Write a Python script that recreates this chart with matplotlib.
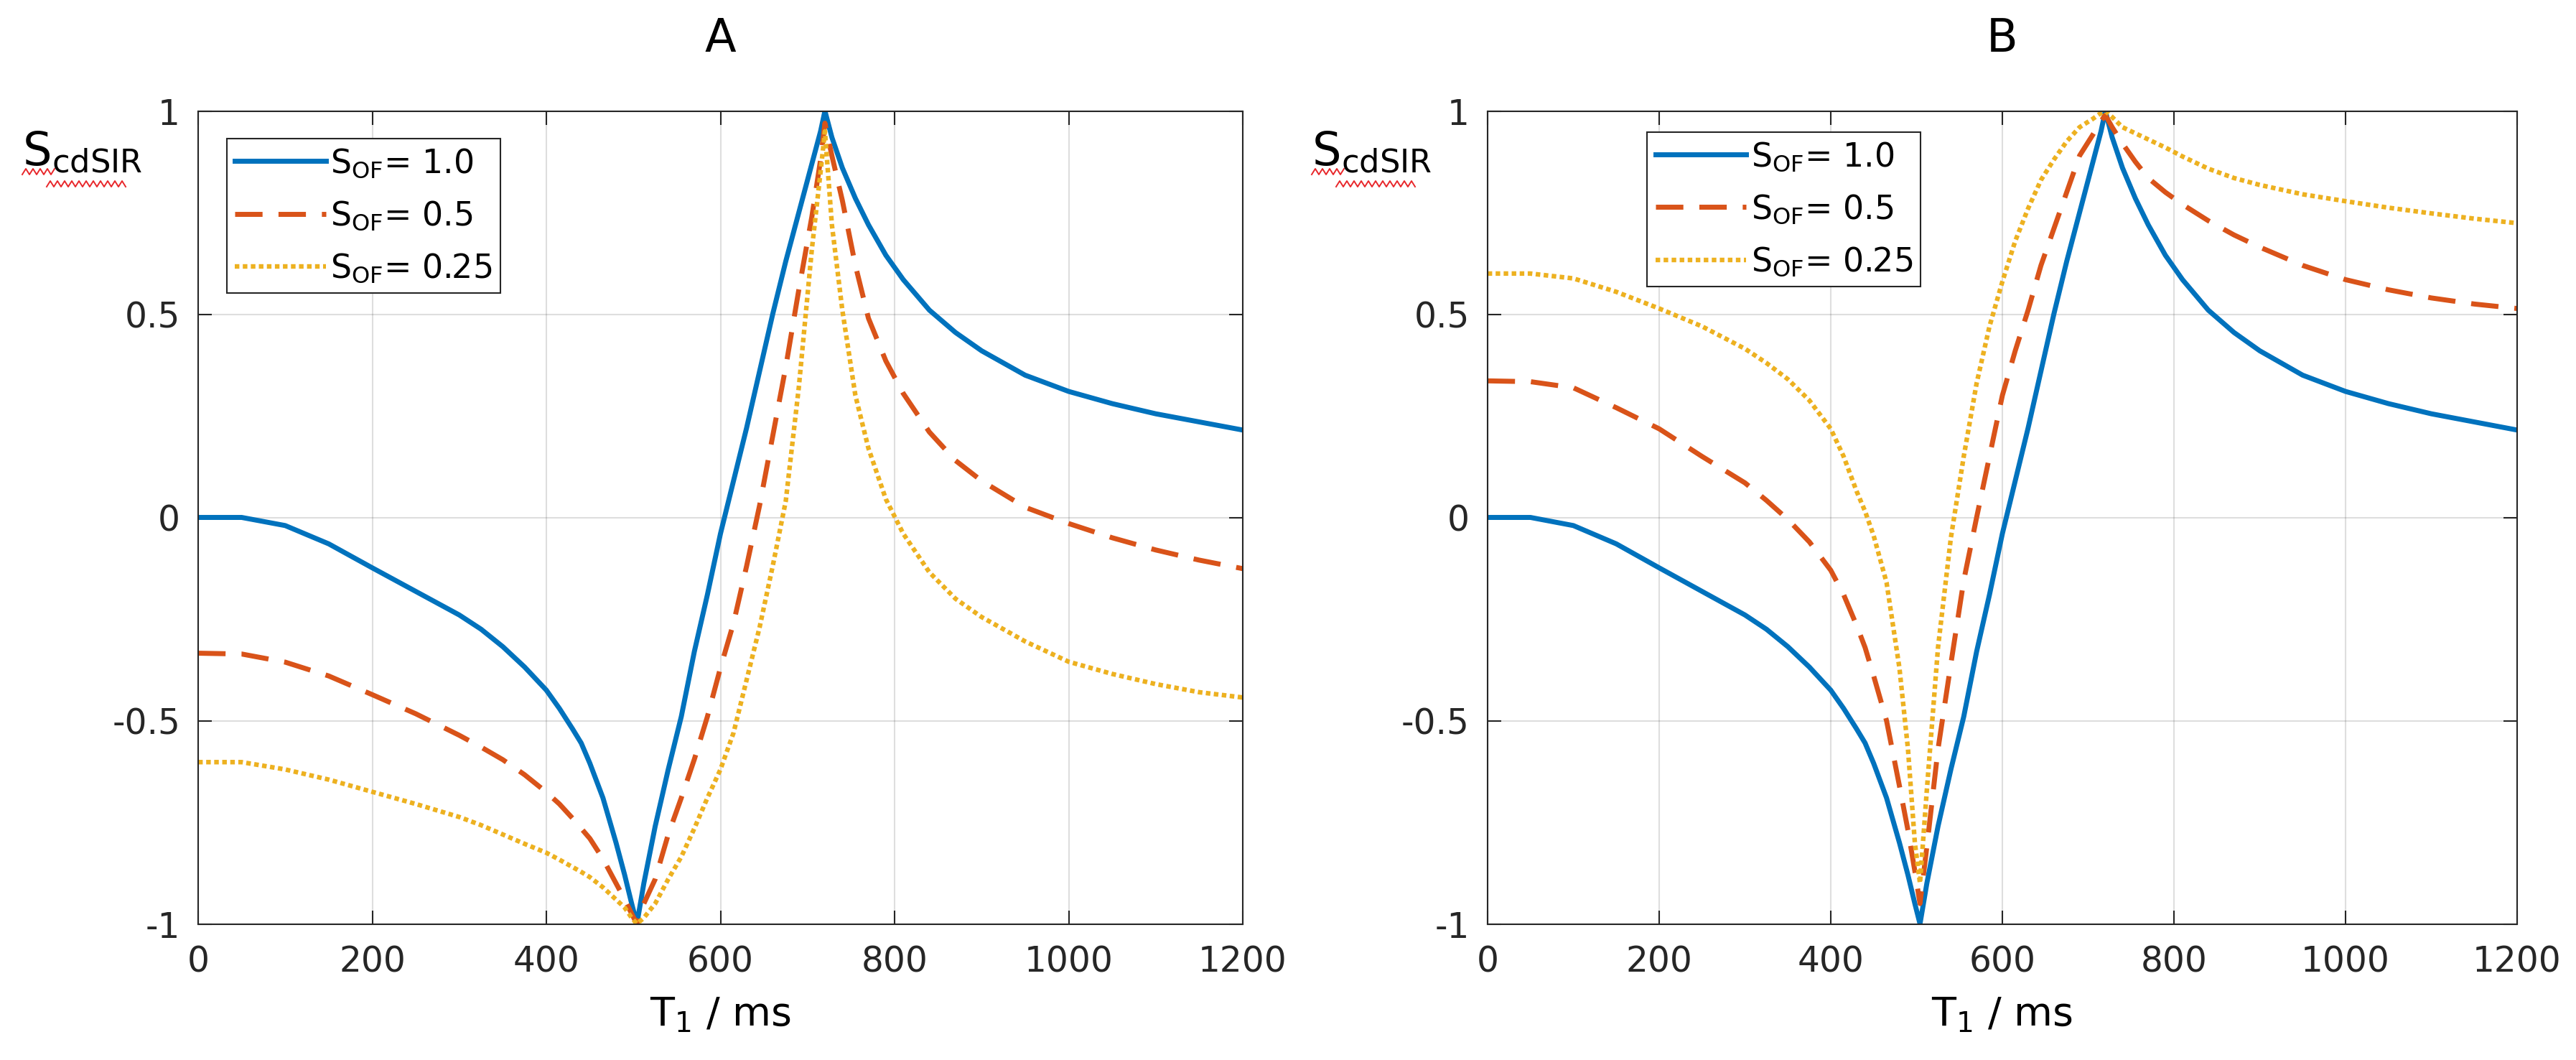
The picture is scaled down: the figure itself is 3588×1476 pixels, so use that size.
import matplotlib
matplotlib.use("Agg")
import matplotlib.pyplot as plt
import numpy as np
from matplotlib.lines import Line2D

# T1 sample points (ms), shared by every curve
T1_MS = [0, 50, 100, 150, 200, 250, 300, 325, 350, 375, 400, 415, 430, 440, 450, 465, 480, 490, 498, 504,
         512, 525, 540, 555, 570, 585, 600, 615, 630, 645, 660, 675, 690, 705, 715, 720,
         728, 740, 755, 770, 790, 810, 840, 870, 900, 950, 1000, 1050, 1100, 1150, 1200]

# S_OF = 1.0 is the same curve in both panels
S_OF_10 = [0, 0, -0.02, -0.065, -0.124, -0.182, -0.24, -0.275, -0.318, -0.368, -0.425, -0.47, -0.52, -0.555, -0.605,
           -0.69, -0.80, -0.88, -0.95, -1.0,
           -0.90, -0.76, -0.62, -0.49, -0.33, -0.19, -0.04, 0.09, 0.22, 0.36, 0.50, 0.63, 0.75, 0.87, 0.95, 1.0,
           0.935, 0.86, 0.785, 0.72, 0.645, 0.585, 0.51, 0.455, 0.41, 0.35, 0.31, 0.28, 0.255, 0.235, 0.215]

# panel A
A_OF_05 = [-0.334, -0.336, -0.356, -0.39, -0.436, -0.483, -0.536, -0.565, -0.596, -0.633, -0.676, -0.705, -0.74, -0.765,
           -0.79, -0.84, -0.90, -0.94, -0.975, -1.0,
           -0.95, -0.89, -0.78, -0.69, -0.595, -0.49, -0.37, -0.26, -0.12, 0.03, 0.2, 0.37, 0.56, 0.74, 0.88, 0.97,
           0.89, 0.78, 0.62, 0.49, 0.385, 0.305, 0.21, 0.14, 0.09, 0.025, -0.015, -0.05, -0.08, -0.105, -0.126]
A_OF_025 = [-0.602, -0.602, -0.62, -0.645, -0.675, -0.705, -0.737, -0.757, -0.78, -0.803, -0.825, -0.842, -0.86, -0.872,
            -0.885, -0.91, -0.94, -0.96, -0.985, -1.0,
            -0.985, -0.95, -0.89, -0.835, -0.765, -0.69, -0.62, -0.53, -0.40, -0.27, -0.12, 0.04, 0.32, 0.66, 0.85, 0.95,
            0.72, 0.51, 0.30, 0.17, 0.045, -0.04, -0.135, -0.2, -0.245, -0.305, -0.355, -0.385, -0.41, -0.43, -0.443]

# panel B
B_OF_05 = [0.336, 0.334, 0.319, 0.27, 0.218, 0.15, 0.085, 0.042, -0.005, -0.06, -0.13, -0.19, -0.265, -0.32,
           -0.39, -0.5, -0.66, -0.77, -0.87, -0.95,
           -0.81, -0.57, -0.36, -0.155, 0.0, 0.15, 0.3, 0.41, 0.51, 0.62, 0.71, 0.80, 0.89, 0.94, 0.975, 0.99,
           0.96, 0.92, 0.875, 0.835, 0.80, 0.77, 0.73, 0.695, 0.665, 0.62, 0.585, 0.56, 0.54, 0.525, 0.514]
B_OF_025 = [0.60, 0.60, 0.588, 0.555, 0.514, 0.47, 0.415, 0.38, 0.34, 0.288, 0.218, 0.15, 0.065, 0.015,
            -0.045, -0.16, -0.37, -0.57, -0.80, -0.9,
            -0.67, -0.32, -0.05, 0.15, 0.33, 0.47, 0.58, 0.68, 0.76, 0.83, 0.88, 0.925, 0.96, 0.98, 0.995, 1.0,
            0.985, 0.96, 0.945, 0.93, 0.91, 0.888, 0.858, 0.835, 0.818, 0.795, 0.778, 0.762, 0.748, 0.735, 0.724]

LABELS = [r"S$_{OF}$= 1.0", r"S$_{OF}$= 0.5", r"S$_{OF}$= 0.25"]
X_TICKS = [0, 200, 400, 600, 800, 1000, 1200]
Y_TICKS = [-1, -0.5, 0, 0.5, 1]
Y_TICK_LABELS = ["-1", "-0.5", "0", "0.5", "1"]

COLORS = ["#0072BD", "#D95319", "#EDB120"]
AXIS_GREY = "#262626"

plt.rcParams["font.family"] = ["DejaVu Sans"]
plt.rcParams["mathtext.default"] = "regular"

W, H = 3588, 1476
fig = plt.figure(figsize=(W / 100, H / 100), dpi=100)


def fx(px):
    return np.asarray(px, dtype=float) / W


def fy(py):
    return 1 - np.asarray(py, dtype=float) / H


AX_TOP, AX_BOT = 154.5, 1286.5
panels = [
    # left px, width px, title, curves, legend anchor
    (276, 1455, "A", [S_OF_10, A_OF_05, A_OF_025], (0.0275, 0.966)),
    (2072, 1434, "B", [S_OF_10, B_OF_05, B_OF_025], (0.155, 0.974)),
]

styles = [
    dict(ls="-", lw=5.0),
    dict(ls=(0, (5.5, 3.2)), lw=5.0),
    dict(ls=(0, (1.0, 0.75)), lw=4.6),
]


def squiggle(x0, x1, yc, amp=4.0, step=5.0):
    xs = np.arange(x0, x1 + 0.1, step)
    ys = yc + amp * np.where(np.arange(len(xs)) % 2 == 0, 1, -1)
    fig.add_artist(Line2D(fx(xs), fy(ys), color="#e8262a", lw=1.4))


for left, width, title, curves, anchor in panels:
    ax = fig.add_axes([fx(left), fy(AX_BOT), width / W, (AX_BOT - AX_TOP) / H])
    for ys, lab, col, st in zip(curves, LABELS, COLORS, styles):
        ax.plot(T1_MS, ys, color=col, label=lab, dash_capstyle="butt",
                solid_joinstyle="round", **st)

    ax.set_xlim(0, 1200)
    ax.set_ylim(-1, 1)
    ax.set_xticks(X_TICKS)
    ax.set_xticklabels([str(v) for v in X_TICKS])
    ax.set_yticks(Y_TICKS)
    ax.set_yticklabels(Y_TICK_LABELS)
    ax.tick_params(direction="in", length=14, width=1.5, top=True, right=True,
                   labelsize=35, colors=AXIS_GREY)
    ax.tick_params(axis="x", pad=21)
    ax.tick_params(axis="y", pad=18)
    ax.grid(True, color=AXIS_GREY, alpha=0.15, lw=1.5)
    for sp in ax.spines.values():
        sp.set_color(AXIS_GREY)
        sp.set_linewidth(1.5)

    leg = ax.legend(loc="upper left", bbox_to_anchor=anchor, borderaxespad=0,
                    fontsize=33, frameon=True, fancybox=False, framealpha=1,
                    edgecolor=AXIS_GREY, handlelength=2.75, handletextpad=0.15,
                    borderpad=0.25, labelspacing=0.6)
    leg.get_frame().set_linewidth(1.5)

    cx = left + width / 2
    fig.text(fx(cx), fy(72), title, ha="center", va="baseline", fontsize=46)
    fig.text(fx(cx), fy(1428), r"T$_1$ / ms", ha="center", va="baseline", fontsize=40)

    # y label sits horizontally above the tick labels, left of the axes
    s_left = left - 245
    fig.text(fx(s_left), fy(230), r"S$_{cdSIR}$", ha="left", va="baseline", fontsize=46)
    squiggle(s_left, s_left + 46, 239)
    squiggle(s_left + 34, s_left + 147, 256)

fig.savefig("out.png", dpi=100)
